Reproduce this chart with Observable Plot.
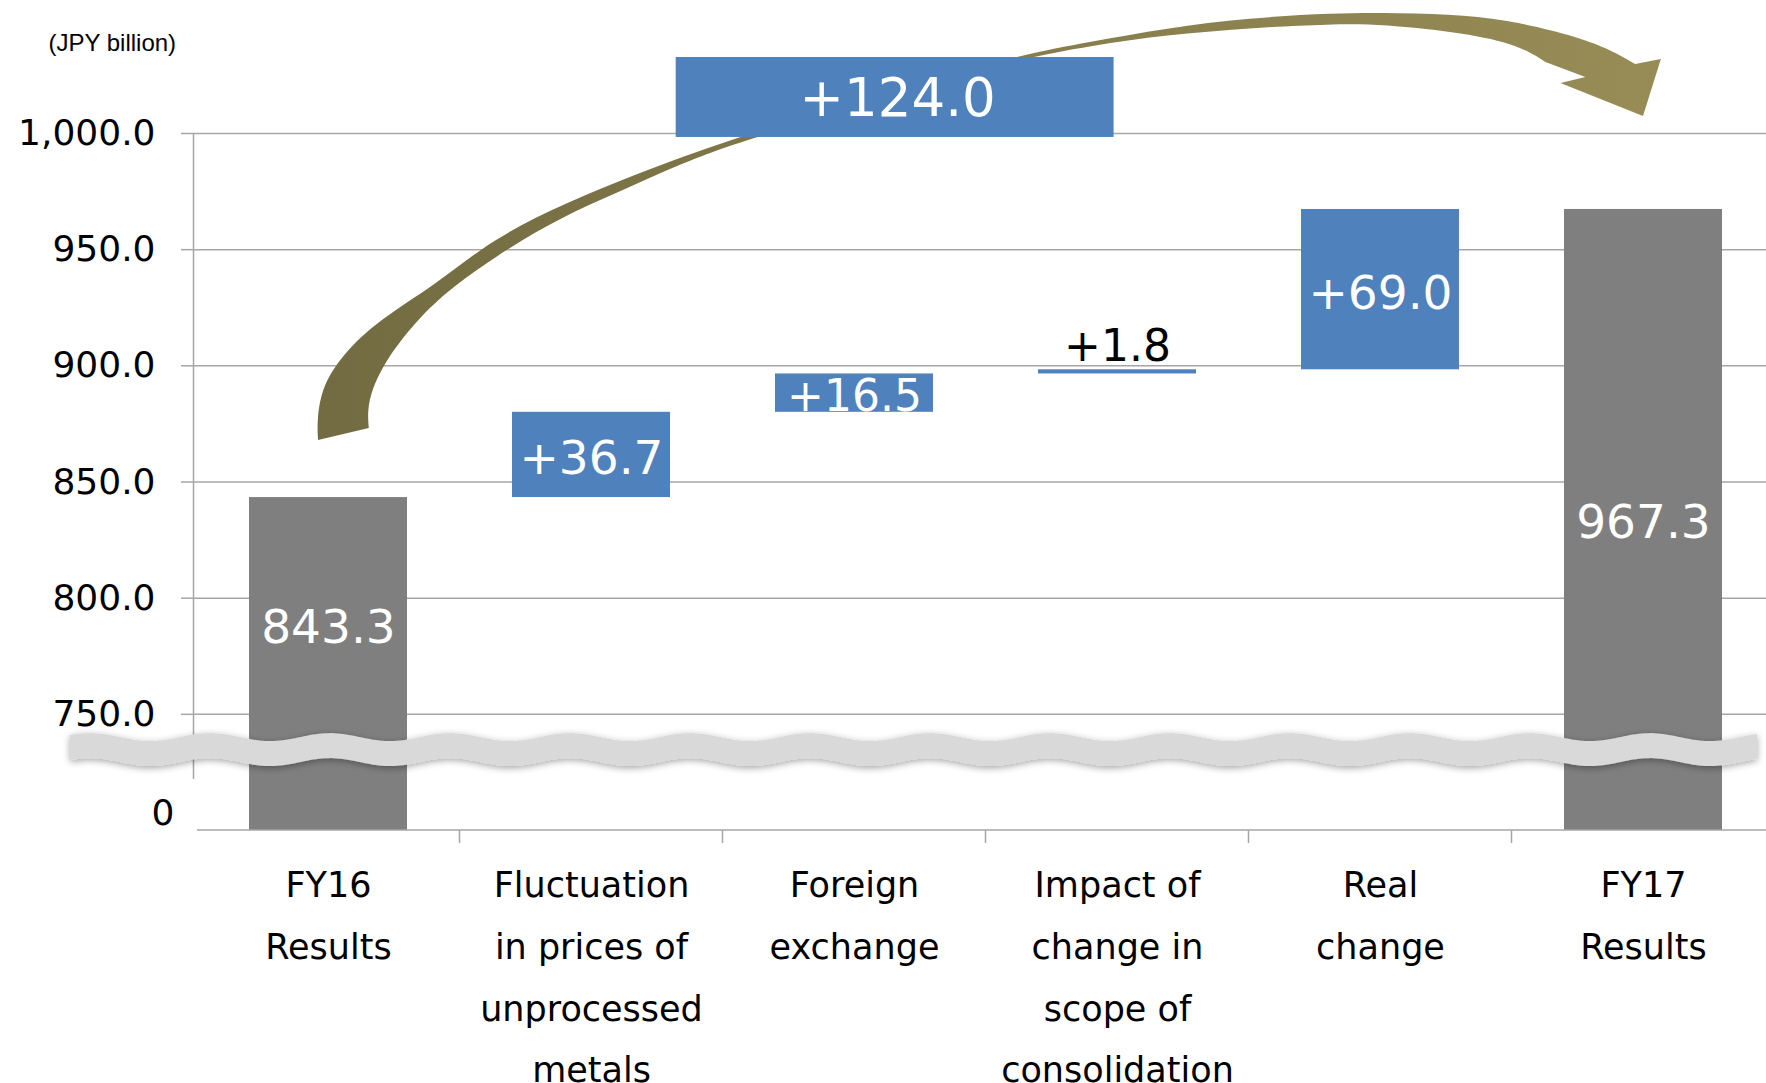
<!DOCTYPE html>
<html>
<head>
<meta charset="utf-8">
<script src="https://cdn.jsdelivr.net/npm/d3@7"></script>
<script src="https://cdn.jsdelivr.net/npm/@observablehq/plot@0.6"></script>
<style>
  html, body { margin: 0; padding: 0; background: #ffffff; }
  #chart svg { display: block; }
</style>
</head>
<body>
<div id="chart"></div>
<script>
// Net sales bridge, FY16 → FY17 (JPY billion)
const categories = [
  "FY16 Results",
  "Fluctuation in prices of unprocessed metals",
  "Foreign exchange",
  "Impact of change in scope of consolidation",
  "Real change",
  "FY17 Results"
];
const categoryLabels = [
  "FY16\nResults",
  "Fluctuation\nin prices of\nunprocessed\nmetals",
  "Foreign\nexchange",
  "Impact of\nchange in\nscope of\nconsolidation",
  "Real\nchange",
  "FY17\nResults"
];
const kinds = ["total", "change", "change", "change", "change", "total"];
const values = [843.3, 36.7, 16.5, 1.8, 69.0, 967.3];
const yTicks = [750, 800, 850, 900, 950, 1000];
const unitLabel = "(JPY billion)";
const brokenAxisLabel = "0";

// Axis is broken: the visible range starts at yFloor, and the wavy band sits at breakAt.
const yFloor = 700;
const yCeil = 1000;
const breakAt = 734.6;
const axisStub = 722;

// Curved arrow from FY16 to FY17: u counts category steps from the FY16 centre, v is in JPY billion.
const arrowOuter = [
  [-0.038, 867.9], [-0.042, 876.5], [-0.023, 890.7], [0.053, 904.5], [0.193, 919.5],
  [0.412, 935.0], [0.575, 950.0], [0.785, 963.8], [1.039, 976.3], [1.293, 987.5],
  [1.569, 998.7], [2.100, 1016.4], [2.604, 1033.1], [2.896, 1039.2], [3.188, 1045.2],
  [3.503, 1049.5], [3.817, 1051.7], [4.071, 1051.7], [4.325, 1050.8], [4.526, 1047.8],
  [4.754, 1041.3], [4.879, 1035.7], [4.970, 1029.7]
];
const arrowHead = [[5.068, 1031.9], [5.000, 1007.3], [4.686, 1021.5], [4.781, 1024.1]];
const arrowInner = [
  [4.629, 1030.6], [4.526, 1037.9], [4.325, 1043.0], [4.007, 1046.9], [3.817, 1046.9],
  [3.503, 1045.2], [3.188, 1042.2], [2.896, 1037.5], [2.604, 1031.4], [2.100, 1013.8],
  [1.569, 996.6], [1.330, 986.2], [1.114, 975.0], [0.887, 963.8], [0.686, 950.5],
  [0.470, 933.7], [0.337, 919.5], [0.204, 900.1], [0.148, 883.8], [0.155, 873.0]
];
// Total-change call-out box: left/right in category steps, bottom/top in JPY billion.
const calloutBox = {u1: 1.322, u2: 2.987, v1: 998.3, v2: 1032.7};

const BLUE = "#4f81bd";
const GRAY = "#7f7f7f";
const GRID = "#a6a6a6";
const FONT = "DejaVu Sans, Verdana, sans-serif";

// Waterfall rows
let running = 0;
const rows = categories.map((category, i) => {
  let base, top;
  if (kinds[i] === "total") {
    base = yFloor; top = values[i]; running = values[i];
  } else {
    base = running; top = running + values[i]; running = top;
  }
  return {category, label: categoryLabels[i], kind: kinds[i], value: values[i], base, top};
});
const changes = rows.filter(d => d.kind === "change");
const totals = rows.filter(d => d.kind === "total");
const totalChange = totals[totals.length - 1].value - totals[0].value;
const fmtChange = v => "+" + v.toFixed(1);
// smaller type on the short bars
const labelSize = d => d.value < 20 ? 44 : 47;

// helpers for the custom-drawn pieces
const bandInfo = x => {
  const step = x.step ? x.step() : 0;
  const bw = x.bandwidth ? x.bandwidth() : 0;
  return {step, bw};
};
const centerOf = (x, c) => x(c) + bandInfo(x).bw / 2;

function leftAxisLine(index, scales, values, dims) {
  const g = d3.create("svg:g");
  g.append("line")
    .attr("x1", dims.marginLeft - 0.5).attr("x2", dims.marginLeft - 0.5)
    .attr("y1", scales.y(yCeil)).attr("y2", scales.y(axisStub))
    .attr("stroke", GRID).attr("stroke-width", 1.5);
  return g.node();
}

function bottomAxis(index, scales, values, dims) {
  const g = d3.create("svg:g");
  const {step, bw} = bandInfo(scales.x);
  const y0 = scales.y(yFloor);
  g.append("line")
    .attr("x1", dims.marginLeft + 3).attr("x2", dims.width)
    .attr("y1", y0).attr("y2", y0)
    .attr("stroke", GRID).attr("stroke-width", 1.5);
  for (const c of categories.slice(1)) {
    const xb = scales.x(c) - (step - bw) / 2;
    g.append("line")
      .attr("x1", xb).attr("x2", xb)
      .attr("y1", y0).attr("y2", y0 + 13)
      .attr("stroke", GRID).attr("stroke-width", 1.5);
  }
  return g.node();
}

function breakBand(index, scales, values, dims) {
  const g = d3.create("svg:g");
  const defs = g.append("defs");
  const f = defs.append("filter").attr("id", "break-shadow")
    .attr("x", "-5%").attr("y", "-150%").attr("width", "110%").attr("height", "400%");
  f.append("feDropShadow").attr("dx", 0).attr("dy", 2).attr("stdDeviation", 3.5)
    .attr("flood-color", "#000").attr("flood-opacity", 0.35);
  const yc = scales.y(breakAt);
  const half = 12.5, amp = 4, period = 120, phase = dims.marginLeft + 16;
  const x0 = dims.marginLeft - 124, x1 = dims.width - 9;
  const wave = x => -amp * Math.cos(2 * Math.PI * (x - phase) / period);
  const topPts = [], botPts = [];
  for (let x = x0; x <= x1; x += 3) {
    topPts.push([x, yc - half + wave(x)]);
    botPts.push([x, yc + half + wave(x)]);
  }
  topPts.push([x1, yc - half + wave(x1)]);
  botPts.push([x1, yc + half + wave(x1)]);
  const pts = topPts.concat(botPts.reverse());
  g.append("path")
    .attr("d", "M" + pts.map(p => p.join(",")).join("L") + "Z")
    .attr("fill", "#d9d9d9")
    .attr("filter", "url(#break-shadow)");
  return g.node();
}

function curvedArrow(index, scales, values, dims) {
  const g = d3.create("svg:g");
  const {step} = bandInfo(scales.x);
  const cx = centerOf(scales.x, categories[0]);
  const P = ([u, v]) => [cx + u * step, scales.y(v)];
  const grad = g.append("defs").append("linearGradient")
    .attr("id", "arrow-fill").attr("gradientUnits", "userSpaceOnUse")
    .attr("x1", cx).attr("x2", cx + 5 * step).attr("y1", 0).attr("y2", 0);
  grad.append("stop").attr("offset", "0%").attr("stop-color", "#736c42");
  grad.append("stop").attr("offset", "100%").attr("stop-color", "#978c56");
  const line = d3.line().curve(d3.curveBasis);
  const outer = line(arrowOuter.map(P));
  const inner = line(arrowInner.map(P)).replace(/^M/, "L");
  const head = arrowHead.map(P).map(p => "L" + p.join(",")).join("");
  g.append("path").attr("d", outer + head + inner + "Z").attr("fill", "url(#arrow-fill)");
  return g.node();
}

function callout(index, scales, values, dims) {
  const g = d3.create("svg:g");
  const {step} = bandInfo(scales.x);
  const cx = centerOf(scales.x, categories[0]);
  const xa = cx + calloutBox.u1 * step, xb = cx + calloutBox.u2 * step;
  const ya = scales.y(calloutBox.v2), yb = scales.y(calloutBox.v1);
  g.append("rect").attr("x", xa).attr("y", ya).attr("width", xb - xa).attr("height", yb - ya)
    .attr("fill", BLUE);
  g.append("text")
    .attr("x", (xa + xb) / 2 + 3).attr("y", (ya + yb) / 2)
    .attr("dy", "0.36em")
    .attr("text-anchor", "middle")
    .attr("fill", "#ffffff")
    .attr("font-family", FONT)
    .attr("font-size", 53)
    .text(fmtChange(totalChange));
  return g.node();
}

const chart = Plot.plot({
  width: 1766,
  height: 1083,
  marginTop: 133,
  marginBottom: 253,
  marginLeft: 194,
  marginRight: 0,
  style: {fontFamily: FONT, background: "#ffffff", overflow: "visible"},
  x: {domain: categories, range: [194.25, 1776.75], paddingInner: 0.4, paddingOuter: 0.2, axis: null},
  y: {domain: [yFloor, yCeil], axis: null},
  marks: [
    Plot.ruleY(yTicks, {stroke: GRID, strokeWidth: 1.5, strokeOpacity: 1}),
    Plot.axisY({
      ticks: yTicks, tickSize: 13, tickPadding: 26, tickFormat: d3.format(",.1f"),
      fontSize: 36, stroke: GRID, strokeWidth: 1.5, strokeOpacity: 1, fill: "#000", label: null
    }),
    Plot.text([yFloor], {y: d => d, text: () => brokenAxisLabel, frameAnchor: "left",
      dx: -20, dy: -17, textAnchor: "end", fontSize: 36, fill: "#000"}),
    leftAxisLine,
    Plot.barY(rows, {x: "category", y1: "base", y2: "top",
      fill: d => d.kind === "total" ? GRAY : BLUE}),
    bottomAxis,
    breakBand,
    curvedArrow,
    callout,
    // change labels: inside the bar when it is tall enough, above it otherwise
    Plot.text(changes.filter(d => d.value >= 10), {x: "category", y: d => (d.base + d.top) / 2,
      text: d => fmtChange(d.value), fill: "#ffffff", fontSize: labelSize, dy: 4}),
    Plot.text(changes.filter(d => d.value < 10), {x: "category", y: "top",
      text: d => fmtChange(d.value), fill: "#000000", fontSize: labelSize, lineAnchor: "bottom", dy: -9}),
    // totals
    Plot.text(totals.slice(0, 1), {x: "category", y: d => (d.base + d.top) / 2,
      text: d => d.value.toFixed(1), fill: "#ffffff", fontSize: 47, dy: -36}),
    Plot.text(totals.slice(1), {x: "category", y: d => (d.base + d.top) / 2,
      text: d => d.value.toFixed(1), fill: "#ffffff", fontSize: 47, dy: 3}),
    // category labels
    Plot.text(rows, {x: "category", y: yFloor, text: "label", lineAnchor: "top",
      lineHeight: 1.763, dy: 23, fontSize: 35, fill: "#000"}),
    Plot.text([unitLabel], {frameAnchor: "top-left", dx: -146, dy: -100, textAnchor: "start",
      lineAnchor: "top", fontSize: 24, fontFamily: "Liberation Sans, Arial, sans-serif", fill: "#000"})
  ]
});
document.getElementById("chart").appendChild(chart);
</script>
</body>
</html>
